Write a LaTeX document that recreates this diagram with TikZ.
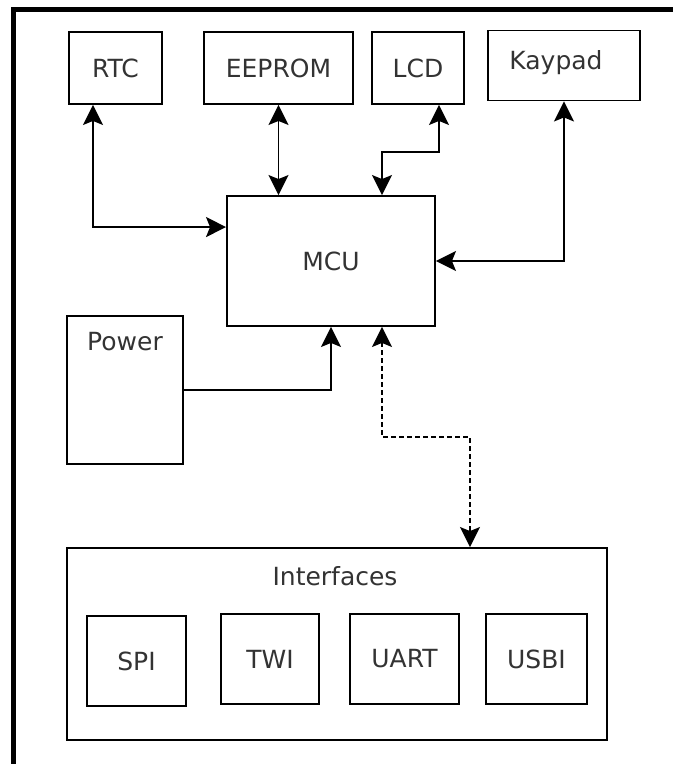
\documentclass[tikz,border=0pt]{standalone}
\usepackage{fontspec}
\setmainfont{DejaVu Sans}
\usetikzlibrary{arrows.meta}

\begin{document}
\begin{tikzpicture}[x=1pt, y=-1pt,
			font=\fontsize{25}{29}\selectfont,
			block/.style={
				rectangle,
				draw,
				line width=1.9pt,
				inner sep=0pt,
				text=black!80},
			link/.style={
				line width=1.9pt,
				{Stealth[length=20pt, width=20pt, inset=4pt]}-{Stealth[length=20pt, width=20pt, inset=4pt]}}]
			\useasboundingbox (0, 0) rectangle (673, 764);
			% frame (only top and left are visible)
			\draw[line width=5pt] (13, 764) |- (673, 9.5);
			% top row
			\node at (115.5, 68) [block, minimum width=93pt, minimum height=72pt] (rtc) {RTC};
			\node at (278.5, 68) [block, minimum width=149pt, minimum height=72pt] (eeprom) {EEPROM};
			\node at (418, 68) [block, minimum width=92pt, minimum height=72pt] (lcd) {LCD};
			\node at (564, 65.5) [block, minimum width=152pt, minimum height=70pt] (kaypad) {};
			\node at (556, 63) [text=black!80] (kaypadtxt) {Kaypad};
			\node at (331, 261) [block, minimum width=208pt, minimum height=130pt] (mcu) {MCU};
			\node at (125, 390) [block, minimum width=116pt, minimum height=148pt] (power) {};
			\node at (125, 342) [text=black!80] (powertxt) {Power};
			% interfaces
			\node at (337, 644) [block, minimum width=540pt, minimum height=192pt] (ifaces) {};
			\node at (335, 576) [text=black!80] (ifacestxt) {Interfaces};
			\foreach \n/\t/\x/\y/\w in {spi/SPI/136.5/661/99, twi/TWI/270/659/98,
					uart/UART/404.5/659/109, usbi/USBI/536.5/659/101}
				\node at (\x, \y) [block, minimum width=\w pt, minimum height=90pt] (\n) {\t};
			% connections
			\draw[link] ([xshift=-22.5pt]rtc.south) |- ([yshift=-32pt]mcu.north west);
			\draw[link] (eeprom.south) -- (mcu.north -| eeprom.south);
			\draw[link] ([xshift=21pt]lcd.south) -- ++(0, 47) -| ([xshift=51pt]mcu.north);
			\draw[link] (kaypad.south) |- (mcu.east);
			\draw[line width=1.9pt, -{Stealth[length=20pt, width=20pt, inset=4pt]}] (power.east) -| (mcu.south);
			\draw[link, dash pattern=on 5pt off 3pt] ([xshift=51pt]mcu.south) -- ++(0, 110) -| ([xshift=133pt]ifaces.north);
\end{tikzpicture}
\end{document}
